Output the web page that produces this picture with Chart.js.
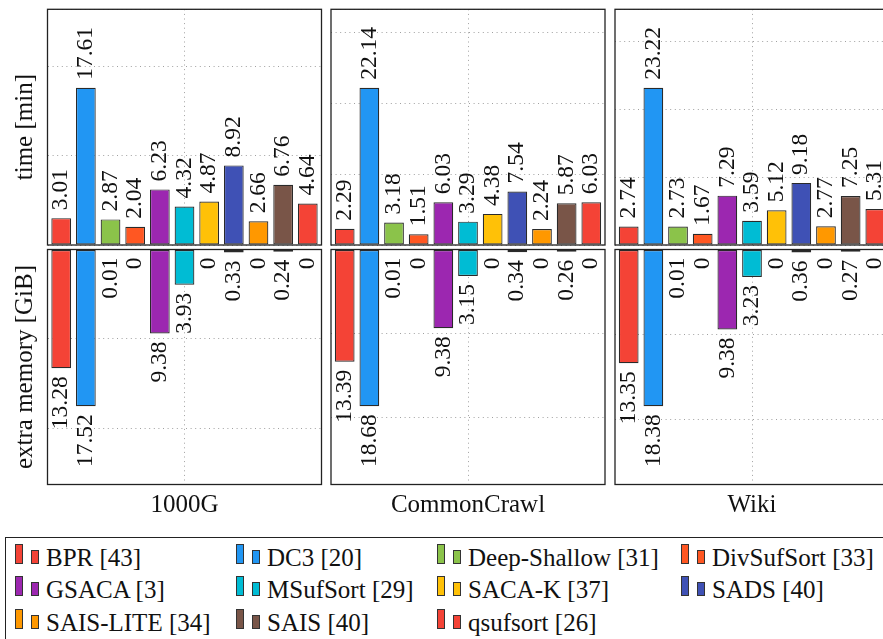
<!DOCTYPE html>
<html>
<head>
<meta charset="utf-8">
<script src="https://cdn.jsdelivr.net/npm/chart.js@4.4.1/dist/chart.umd.min.js"></script>
<style>
  body { margin: 0; background: #fff; }
  #page { position: relative; width: 883px; height: 639px; overflow: hidden; font-family: "Liberation Serif", serif; color: #111; }
  canvas { position: absolute; }
  #legendBox { position: absolute; left: 5px; top: 537px; width: 920px; height: 130px; border: 1.3px solid #222; box-sizing: border-box; }
  .entry { position: absolute; height: 24px; }
  .sw { position: absolute; box-sizing: border-box; border: 1.2px solid #333; width: 8px; }
  .entry span { position: absolute; left: 31px; top: 1px; font-size: 25px; line-height: 25px; white-space: nowrap; }
</style>
</head>
<body>
<div id="page">
  <canvas id="t0"></canvas>
  <canvas id="t1"></canvas>
  <canvas id="t2"></canvas>
  <canvas id="m0"></canvas>
  <canvas id="m1"></canvas>
  <canvas id="m2"></canvas>
  <div id="legendBox"></div>
</div>
<script>
// algorithms, in legend order
const algos = ["BPR [43]", "DC3 [20]", "Deep-Shallow [31]", "DivSufSort [33]",
               "GSACA [3]", "MSufSort [29]", "SACA-K [37]", "SADS [40]",
               "SAIS-LITE [34]", "SAIS [40]", "qsufsort [26]"];
const colors = ["#F44336", "#2196F3", "#8BC34A", "#FF5722", "#9C27B0", "#00BCD4",
                "#FFC107", "#3F51B5", "#FF9800", "#795548", "#F44336"];
const inputs = ["1000G", "CommonCrawl", "Wiki"];

// time [min]
const time1000G       = [3.01, 17.61, 2.87, 2.04, 6.23, 4.32, 4.87, 8.92, 2.66, 6.76, 4.64];
const timeCommonCrawl = [2.29, 22.14, 3.18, 1.51, 6.03, 3.29, 4.38, 7.54, 2.24, 5.87, 6.03];
const timeWiki        = [2.74, 23.22, 2.73, 1.67, 7.29, 3.59, 5.12, 9.18, 2.77, 7.25, 5.31];

// extra memory [GiB]
const mem1000G       = [13.28, 17.52, 0.01, 0, 9.38, 3.93, 0, 0.33, 0, 0.24, 0];
const memCommonCrawl = [13.39, 18.68, 0.01, 0, 9.38, 3.15, 0, 0.34, 0, 0.26, 0];
const memWiki        = [13.35, 18.38, 0.01, 0, 9.38, 3.23, 0, 0.36, 0, 0.27, 0];

const times = [time1000G, timeCommonCrawl, timeWiki];
const mems = [mem1000G, memCommonCrawl, memWiki];

const FONT = '"Liberation Serif", serif';
const panelLeft = [47.5, 331, 615];
const panelW = 274;
const gridColor = "#a0a0a0";

// box around each plot area
const framePlugin = {
  id: "frame",
  afterDraw(chart) {
    const a = chart.chartArea, ctx = chart.ctx;
    ctx.save();
    ctx.strokeStyle = "#222";
    ctx.lineWidth = 1.3;
    ctx.strokeRect(a.left, a.top, a.right - a.left, a.bottom - a.top);
    ctx.restore();
  }
};

// rotated value labels at the end of each bar
const valueLabels = {
  id: "valueLabels",
  afterDatasetsDraw(chart) {
    const ctx = chart.ctx;
    const down = chart.options.scales.y.reverse;
    ctx.save();
    ctx.font = "23.5px " + FONT;
    ctx.fillStyle = "#111";
    ctx.textBaseline = "middle";
    chart.data.datasets.forEach((ds, i) => {
      const bar = chart.getDatasetMeta(i).data[0];
      ctx.save();
      ctx.translate(bar.x, down ? bar.y + 8 : bar.y - 8);
      ctx.rotate(-Math.PI / 2);
      ctx.textAlign = down ? "right" : "left";
      ctx.fillText(String(ds.data[0]), 0, 0);
      ctx.restore();
    });
    ctx.restore();
  }
};

function makeChart(id, col, isTop, values) {
  const axisW = col === 0 ? 47.5 : 6;
  const left = Math.round(panelLeft[col] - axisW);
  const w = Math.ceil(axisW + panelW + 6);
  const canvas = document.getElementById(id);
  canvas.width = w;
  canvas.height = isTop ? 251 : 290;
  canvas.style.left = left + "px";
  canvas.style.top = (isTop ? 0 : 240) + "px";

  const ymax = 1.5 * Math.max(...values);
  const title = isTop ? "time [min]" : "extra memory [GiB]";

  return new Chart(canvas, {
    type: "bar",
    data: {
      labels: [inputs[col]],
      datasets: algos.map((name, i) => ({
        label: name,
        data: [values[i]],
        backgroundColor: colors[i],
        borderColor: "#2a2a2a",
        borderWidth: 1.2,
        borderSkipped: false,
        categoryPercentage: 0.99,
        barPercentage: 0.8
      }))
    },
    options: {
      responsive: false,
      animation: false,
      layout: { padding: { top: isTop ? 9.3 : 9.5, bottom: isTop ? 6 : 0, left: 0, right: w - axisW - panelW } },
      plugins: { legend: { display: false }, tooltip: { enabled: false } },
      scales: {
        x: {
          ticks: { display: !isTop, font: { family: FONT, size: 25 }, color: "#111", padding: 6, maxRotation: 0 },
          grid: { offset: false, drawTicks: false, color: gridColor, lineWidth: 1 },
          border: { display: false, dash: [1, 3.6] },
          afterFit: s => { s.height = isTop ? 0 : 45.5; }
        },
        y: {
          min: 0,
          max: ymax,
          reverse: !isTop,
          ticks: { display: false, stepSize: 10 },
          grid: { drawTicks: false, color: gridColor, lineWidth: 1 },
          border: { display: false, dash: [1, 3.6] },
          title: {
            display: col === 0,
            text: title,
            font: { family: FONT, size: 25 },
            color: "#111",
            padding: { top: 10, bottom: 0 }
          },
          afterFit: s => { s.width = axisW; }
        }
      }
    },
    plugins: [valueLabels, framePlugin]
  });
}

for (let c = 0; c < 3; c++) {
  makeChart("t" + c, c, true, times[c]);
  makeChart("m" + c, c, false, mems[c]);
}

// legend: 4 columns, two swatches per entry
const legendCols = [15, 236, 437, 681];
const legendRows = [543.5, 576, 608.5];
const page = document.getElementById("page");
algos.forEach((name, i) => {
  const e = document.createElement("div");
  e.className = "entry";
  e.style.left = legendCols[i % 4] + "px";
  e.style.top = legendRows[Math.floor(i / 4)] + "px";
  e.innerHTML =
    '<div class="sw" style="left:0;top:0;height:20px;background:' + colors[i] + '"></div>' +
    '<div class="sw" style="left:16px;top:6px;height:14px;background:' + colors[i] + '"></div>' +
    '<span>' + name + '</span>';
  page.appendChild(e);
});
</script>
</body>
</html>
